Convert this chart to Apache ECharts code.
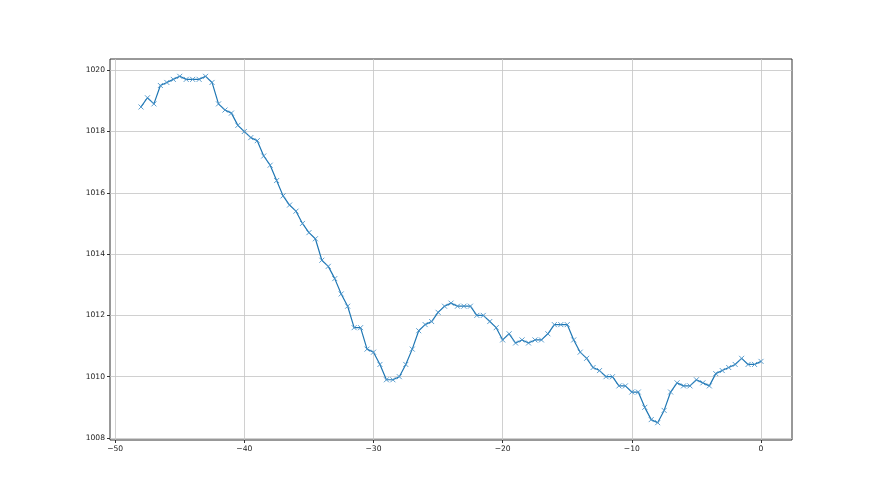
<!DOCTYPE html>
<html>
<head>
<meta charset="utf-8">
<script src="https://cdn.jsdelivr.net/npm/echarts@6/dist/echarts.min.js"></script>
<style>html,body{margin:0;padding:0;background:#fff}#c{width:880px;height:495px}</style>
</head>
<body>
<div id="c"></div>
<script>
const xValues = [-48,-47.5,-47,-46.5,-46,-45.5,-45,-44.5,-44,-43.5,-43,-42.5,-42,-41.5,-41,-40.5,-40,-39.5,-39,-38.5,-38,-37.5,-37,-36.5,-36,-35.5,-35,-34.5,-34,-33.5,-33,-32.5,-32,-31.5,-31,-30.5,-30,-29.5,-29,-28.5,-28,-27.5,-27,-26.5,-26,-25.5,-25,-24.5,-24,-23.5,-23,-22.5,-22,-21.5,-21,-20.5,-20,-19.5,-19,-18.5,-18,-17.5,-17,-16.5,-16,-15.5,-15,-14.5,-14,-13.5,-13,-12.5,-12,-11.5,-11,-10.5,-10,-9.5,-9,-8.5,-8,-7.5,-7,-6.5,-6,-5.5,-5,-4.5,-4,-3.5,-3,-2.5,-2,-1.5,-1,-0.5,0];
const pressure = [1018.8,1019.1,1018.9,1019.5,1019.6,1019.7,1019.8,1019.7,1019.7,1019.7,1019.8,1019.6,1018.9,1018.7,1018.6,1018.2,1018.0,1017.8,1017.7,1017.2,1016.9,1016.4,1015.9,1015.6,1015.4,1015.0,1014.7,1014.5,1013.8,1013.6,1013.2,1012.7,1012.3,1011.6,1011.6,1010.9,1010.8,1010.4,1009.9,1009.9,1010.0,1010.4,1010.9,1011.5,1011.7,1011.8,1012.1,1012.3,1012.4,1012.3,1012.3,1012.3,1012.0,1012.0,1011.8,1011.6,1011.2,1011.4,1011.1,1011.2,1011.1,1011.2,1011.2,1011.4,1011.7,1011.7,1011.7,1011.2,1010.8,1010.6,1010.3,1010.2,1010.0,1010.0,1009.7,1009.7,1009.5,1009.5,1009.0,1008.6,1008.5,1008.9,1009.5,1009.8,1009.7,1009.7,1009.9,1009.8,1009.7,1010.1,1010.2,1010.3,1010.4,1010.6,1010.4,1010.4,1010.5];
const xTicks = [-50,-40,-30,-20,-10,0];
const yTicks = [1008,1010,1012,1014,1016,1018,1020];

const chart = echarts.init(document.getElementById('c'), null, {renderer:'canvas'});
const labelStyle = {color:'#222', fontFamily:'DejaVu Sans', fontSize:7.6};
chart.setOption({
  animation:false,
  backgroundColor:'#fff',
  grid:{left:110,right:88,top:59,bottom:55,show:true,borderColor:'#333',borderWidth:1,backgroundColor:'transparent',containLabel:false},
  xAxis:{
    type:'value', min:-50.4, max:2.4,
    axisLine:{show:false,onZero:false},
    axisTick:{show:true,length:3,customValues:xTicks,lineStyle:{color:'#333'}},
    axisLabel:Object.assign({margin:5,customValues:xTicks,formatter:v=>String(v).replace('-','\u2212')},labelStyle),
    splitLine:{show:true,lineStyle:{color:'#c4c4c4',width:0.8}}
  },
  yAxis:{
    type:'value', min:1007.935, max:1020.365,
    axisLine:{show:false,onZero:false},
    axisTick:{show:true,length:3,customValues:yTicks,lineStyle:{color:'#333'}},
    axisLabel:Object.assign({margin:5,customValues:yTicks,formatter:v=>String(v)},labelStyle),
    splitLine:{show:true,lineStyle:{color:'#c4c4c4',width:0.8}}
  },
  series:[{
    type:'line',
    data:xValues.map((x,i)=>[x,pressure[i]]),
    symbol:'path://M0,0L10,10M10,0L0,10',
    symbolSize:5,
    showSymbol:true,
    lineStyle:{color:'#1f77b4',width:1.2},
    itemStyle:{color:'transparent',borderColor:'#4a93c8',borderWidth:0.9},
    emphasis:{disabled:true}
  }]
});
</script>
</body>
</html>
